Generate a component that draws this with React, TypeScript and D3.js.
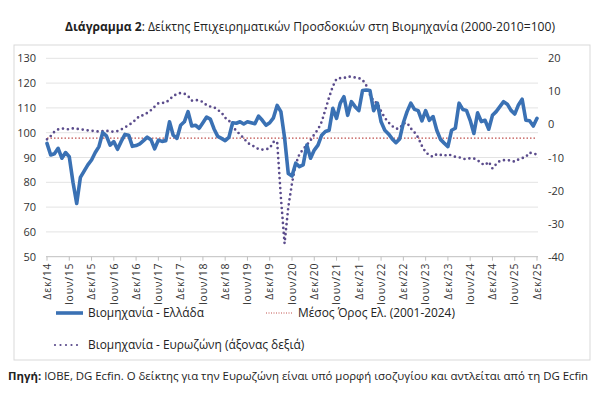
import React from "react"
import * as d3 from "d3"

// Greek industry business expectations index (left axis), monthly Dec 2014 .. Dec 2025
const greece = [
  95.7, 91, 91.5, 93.7, 89.7, 92, 90.3, 80, 71.5, 82, 84.5, 87, 89, 92, 94.4, 100, 98.7, 95, 96.4, 93.3,
  96.5, 99.3, 99, 94.5, 94.8, 95.5, 96.8, 98.2, 97.2, 93.5, 97, 96.5, 96.8, 104.4, 99, 97.7, 103, 104.4, 108.5, 102.7,
  103, 101.8, 104, 106.3, 105.5, 101.5, 98.5, 97.7, 96.8, 98.1, 104, 103.8, 104.4, 103.5, 104.4, 104, 103.6, 106.7, 105, 103,
  104, 106, 111, 108.5, 98, 83.5, 82.5, 87.7, 86.3, 87, 95, 89.7, 93, 95, 99, 100.5, 101, 109.8, 105.8, 111.9,
  114.5, 107, 112.5, 110.5, 108.9, 117, 117.2, 117, 108.9, 111.9, 104.4, 101, 99.5, 97.5, 96, 97.5, 104, 108.5, 111.9, 109.4,
  108.9, 104.8, 108.9, 105, 106.5, 101, 97.3, 95.8, 94.4, 101, 101.8, 111.9, 109.4, 109, 105, 99.7, 108, 104.5, 105, 101.4,
  107, 108.5, 110.5, 112.5, 111.5, 109, 107.5, 111.2, 113.5, 105, 104.8, 102.7, 105.8,
]

// Eurozone industry confidence balance (right axis)
const eurozone = [
  -4.5, -3.5, -2.2, -1.5, -1.2, -1.4, -1.5, -1.2, -1.3, -1.5, -1.6, -1.8, -1.9, -2, -2.2, -2, -1.9, -2.1, -2.2, -2,
  -1.5, -0.9, -0.2, 0.5, 1.6, 2.6, 2.8, 3.5, 4.3, 5.4, 6.4, 6.5, 6.6, 7.5, 8.6, 9.2, 9.5, 9.3, 8.6, 7.2,
  7.4, 7.2, 6.8, 5.8, 5.4, 5.2, 4.4, 3.6, 2, 1.2, -0.5, -2, -3, -4.2, -5.5, -6.3, -6.7, -7.5, -7.6, -7.5,
  -7.2, -5.3, -5.2, -22, -36, -25, -17.8, -12, -9, -7.5, -6.2, -4.8, -3, -1.5, 0.8, 4.5, 8.2, 11.5, 13.8, 14,
  14, 14.5, 14.4, 14.2, 14, 13.5, 11.8, 9, 7, 6.4, 4, 2, 0.6, -0.5, -1.3, -1.2, 0.3, 0.5, -1.2, -2.4,
  -4, -6.5, -8.4, -9.3, -9.8, -9, -9.2, -9.5, -9, -9.4, -9.8, -9.9, -10.4, -10.5, -10.2, -10.3, -10.8, -11.8, -12.3, -11.3,
  -13.3, -12, -11, -10.8, -10.8, -10.9, -11.3, -10.6, -10.2, -9.8, -8.5, -8.9, -9,
]

const greeceMean = 97.8

const leftTicks = [50, 60, 70, 80, 90, 100, 110, 120, 130]
const rightTicks = [-40, -30, -20, -10, 0, 10, 20]

const tickLabels = [
  "Δεκ/14", "Ιουν/15", "Δεκ/15", "Ιουν/16", "Δεκ/16", "Ιουν/17", "Δεκ/17", "Ιουν/18",
  "Δεκ/18", "Ιουν/19", "Δεκ/19", "Ιουν/20", "Δεκ/20", "Ιουν/21", "Δεκ/21", "Ιουν/22",
  "Δεκ/22", "Ιουν/23", "Δεκ/23", "Ιουν/24", "Δεκ/24", "Ιουν/25", "Δεκ/25",
]

const FONT = "'Open Sans', 'Noto Sans', sans-serif"
const BLUE = "#3a71b4"
const PURPLE = "#5b4c8c"
const RED = "#c0504d"

const App = () => {
  const width = 600
  const height = 396
  const plot = { left: 47, right: 537, top: 58.3, bottom: 256.7 }

  const x = d3.scaleLinear().domain([0, greece.length - 1]).range([plot.left, plot.right])
  const yL = d3.scaleLinear().domain([50, 130]).range([plot.bottom, plot.top])
  const yR = d3.scaleLinear().domain([-40, 20]).range([plot.bottom, plot.top])

  const greeceLine = d3.line<number>().x((_, i) => x(i)).y(d => yL(d))
  const euroLine = d3.line<number>().x((_, i) => x(i)).y(d => yR(d))

  return (
    <svg width={width} height={height} style={{ position: "absolute", left: 0, top: 0, background: "#fff" }}>
      <text x={310} y={31} textAnchor="middle" fontFamily={FONT} fontSize={12.1} fill="#222">
        <tspan fontWeight="bold">Διάγραμμα 2</tspan>
        <tspan>: Δείκτης Επιχειρηματικών Προσδοκιών στη Βιομηχανία (2000-2010=100)</tspan>
      </text>

      <rect x={14} y={45} width={576} height={315} fill="none" stroke="#d9d9d9" strokeWidth={1} />

      {/* gridlines */}
      {leftTicks.map(t => (
        <line key={t} x1={plot.left - 1} x2={plot.right + 1} y1={yL(t)} y2={yL(t)}
          stroke={t === 50 ? "#bfbfbf" : "#e3e3e3"} strokeWidth={1} />
      ))}

      {/* x ticks */}
      {tickLabels.map((lab, k) => {
        const xi = x(k * 6)
        return (
          <g key={lab}>
            <line x1={xi} x2={xi} y1={plot.bottom} y2={plot.bottom + 4} stroke="#bfbfbf" />
            <text transform={`translate(${xi + 3.7},${plot.bottom + 6}) rotate(-90)`} textAnchor="end"
              fontFamily={FONT} fontSize={10.4} letterSpacing={0.8} fill="#333">{lab}</text>
          </g>
        )
      })}

      {/* left axis labels */}
      {leftTicks.map(t => (
        <text key={t} x={36} y={yL(t) + 4} textAnchor="end" fontFamily={FONT} fontSize={11} fill="#333">{t}</text>
      ))}
      {/* right axis labels */}
      {rightTicks.map(t => (
        <text key={t} x={548} y={yR(t) + 4} textAnchor="start" fontFamily={FONT} fontSize={11} fill="#333">{t}</text>
      ))}

      {/* mean line */}
      <line x1={plot.left} x2={plot.right} y1={yL(greeceMean)} y2={yL(greeceMean)}
        stroke={RED} strokeWidth={1.3} strokeDasharray="1.5 2" />

      {/* eurozone dotted */}
      <path d={euroLine(eurozone) || ""} fill="none" stroke={PURPLE} strokeWidth={2.7}
        strokeLinecap="round" strokeDasharray="0 5" />

      {/* greece */}
      <path d={greeceLine(greece) || ""} fill="none" stroke={BLUE} strokeWidth={3.6}
        strokeLinejoin="round" strokeLinecap="round" />

      {/* legend */}
      <line x1={56} x2={83} y1={313} y2={313} stroke={BLUE} strokeWidth={3.6} />
      <text x={88} y={317} fontFamily={FONT} fontSize={11.9} fill="#222">Βιομηχανία  - Ελλάδα</text>
      <line x1={266} x2={293} y1={313} y2={313} stroke={RED} strokeWidth={1} strokeDasharray="1 1.5" />
      <text x={298} y={317} fontFamily={FONT} fontSize={11.9} fill="#222">Μέσος Όρος Ελ. (2001-2024)</text>
      <line x1={55} x2={80} y1={345} y2={345} stroke={PURPLE} strokeWidth={2.2} strokeLinecap="round"
        strokeDasharray="0 5.5" />
      <text x={88} y={349} fontFamily={FONT} fontSize={11.9} fill="#222">Βιομηχανία - Ευρωζώνη (άξονας δεξιά)</text>

      <text x={8} y={380} fontFamily={FONT} fontSize={11.4} fill="#222">
        <tspan fontWeight="bold">Πηγή:</tspan>
        <tspan> ΙΟΒΕ, DG Ecfin. Ο δείκτης για την Ευρωζώνη είναι υπό μορφή ισοζυγίου και αντλείται από τη DG Ecfin</tspan>
      </text>
    </svg>
  )
}

export default App
